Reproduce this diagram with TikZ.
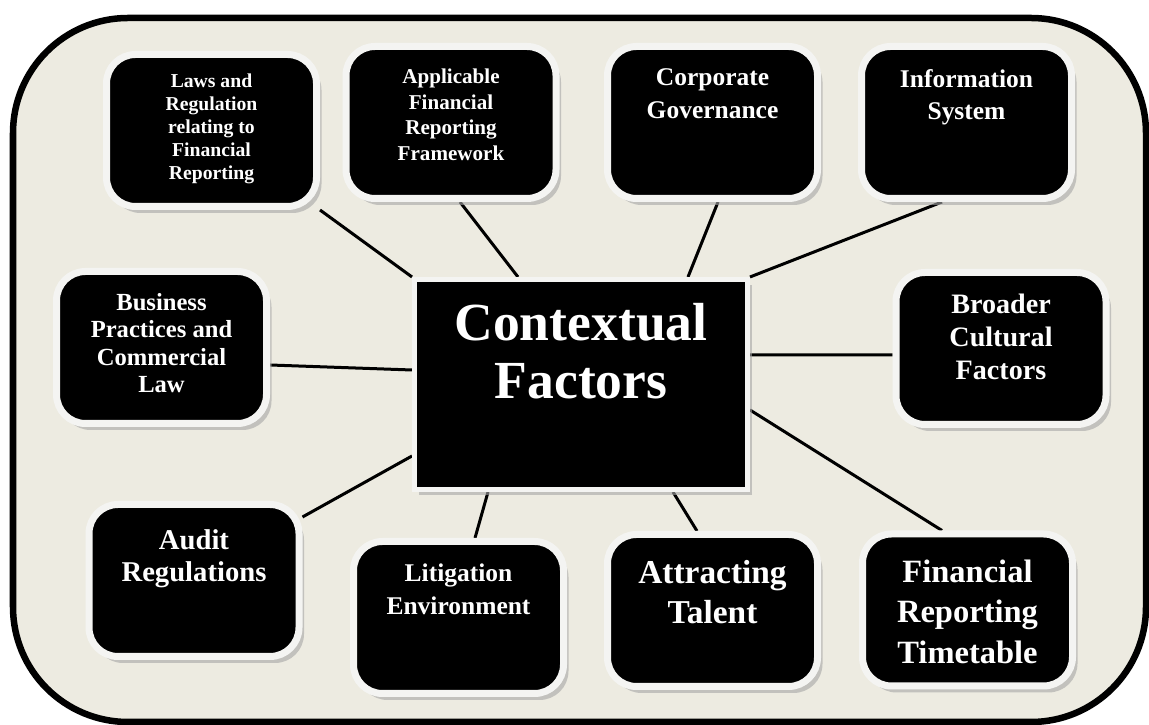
\documentclass[tikz,border=0pt]{standalone}
\usepackage{fontspec}
\setmainfont{Liberation Serif}
\usepackage{xcolor}
\usetikzlibrary{positioning,calc,shadows,backgrounds}
\definecolor{cream}{RGB}{237,235,225}
\definecolor{ringgray}{RGB}{244,244,242}
\newcommand{\fsz}[2]{\fontsize{#1}{#2}\selectfont\bfseries}

\begin{document}
\begin{tikzpicture}[
    factor/.style={fill=black, draw=ringgray, line width=0.14cm, rounded corners=0.58cm,
        minimum width=4.20cm, minimum height=3.04cm, inner sep=0pt,
        drop shadow={shadow xshift=0.10cm, shadow yshift=-0.13cm, fill=black!35, opacity=0.6}},
    hub/.style={fill=black, draw=ringgray, line width=0.10cm,
        minimum width=6.66cm, minimum height=4.20cm, inner sep=0pt,
        drop shadow={shadow xshift=0.09cm, shadow yshift=-0.12cm, fill=black!35, opacity=0.6}},
    ftext/.style={text=white, align=center, inner sep=0pt},
    link/.style={draw=black, line width=0.06cm}]
    \useasboundingbox (0,0) rectangle (22.98,14.50);

    % Boxes
    \node[hub] (ctx) at (11.62,6.81) {};
    \node[factor] (laws) at (4.23,11.89) {};
    \node[factor] (appl) at (9.02,12.05) {};
    \node[factor] (corp) at (14.25,12.05) {};
    \node[factor] (info) at (19.33,12.05) {};
    \node[factor] (bus) at (3.23,7.55) {};
    \node[factor] (broad) at (20.02,7.53) {};
    \node[factor] (audit) at (3.88,2.89) {};
    \node[factor] (litig) at (9.17,2.15) {};
    \node[factor] (attr) at (14.25,2.29) {};
    \node[factor] (time) at (19.35,2.30) {};

    % Texts
    \node[ftext, font={\fsz{30.5}{33}}, below=0.51cm of ctx.north] (ctx-t) {Contextual\\Factors};
    \node[ftext, font={\fsz{11.2}{13.1}}, below=0.45cm of laws.north] (laws-t) {Laws and\\Regulation\\relating to\\Financial\\Reporting};
    \node[ftext, font={\fsz{12}{14.6}}, below=0.51cm of appl.north] (appl-t) {Applicable\\Financial\\Reporting\\Framework};
    \node[ftext, font={\fsz{14.5}{18.8}}, below=0.51cm of corp.north] (corp-t) {Corporate\\Governance};
    \node[ftext, font={\fsz{14.5}{18.2}}, below=0.53cm of info.north] (info-t) {Information\\System};
    \node[ftext, font={\fsz{14}{15.4}}, below=0.51cm of bus.north] (bus-t) {Business\\Practices and\\Commercial\\Law};
    \node[ftext, font={\fsz{16}{18.8}}, below=0.49cm of broad.north] (broad-t) {Broader\\Cultural\\Factors};
    \node[ftext, font={\fsz{16.3}{18.2}}, below=0.57cm of audit.north] (audit-t) {Audit\\Regulations};
    \node[ftext, font={\fsz{14.5}{18.8}}, below=0.51cm of litig.north] (litig-t) {Litigation\\Environment};
    \node[ftext, font={\fsz{19}{22.8}}, below=0.57cm of attr.north] (attr-t) {Attracting\\Talent};
    \node[ftext, font={\fsz{18.5}{22.8}}, below=0.59cm of time.north] (time-t) {Financial\\Reporting\\Timetable};

    \begin{scope}[on background layer]
        % Outer frame
        \draw[line width=0.13cm, fill=cream, rounded corners=2.3cm] (0.26,0.06) rectangle (22.92,14.14);

        % Connectors
        \draw[link] (laws.south east) -- (ctx.north west);
        \draw[link] ($(appl.south)+(0.18,0)$) -- ($(ctx.north)+(-1.26,0)$);
        \draw[link] ($(corp.south)+(0.11,0)$) -- ($(ctx.north)+(2.14,0)$);
        \draw[link] ($(info.south)+(-0.49,0)$) -- (ctx.north east);
        \draw[link] ($(bus.east)+(0,-0.35)$) -- ($(ctx.west)+(0,0.29)$);
        \draw[link] ($(broad.west)+(0,-0.13)$) -- ($(ctx.east)+(0,0.59)$);
        \draw[link] ($(audit.east)+(0,1.27)$) -- ($(ctx.west)+(0,-1.43)$);
        \draw[link] ($(litig.north)+(0.33,0)$) -- ($(ctx.south)+(-1.86,0)$);
        \draw[link] ($(attr.north)+(-0.31,0)$) -- ($(ctx.south)+(1.84,0)$);
        \draw[link] ($(time.north)+(-0.51,0)$) -- ($(ctx.east)+(0,-0.51)$);
    \end{scope}
\end{tikzpicture}
\end{document}
